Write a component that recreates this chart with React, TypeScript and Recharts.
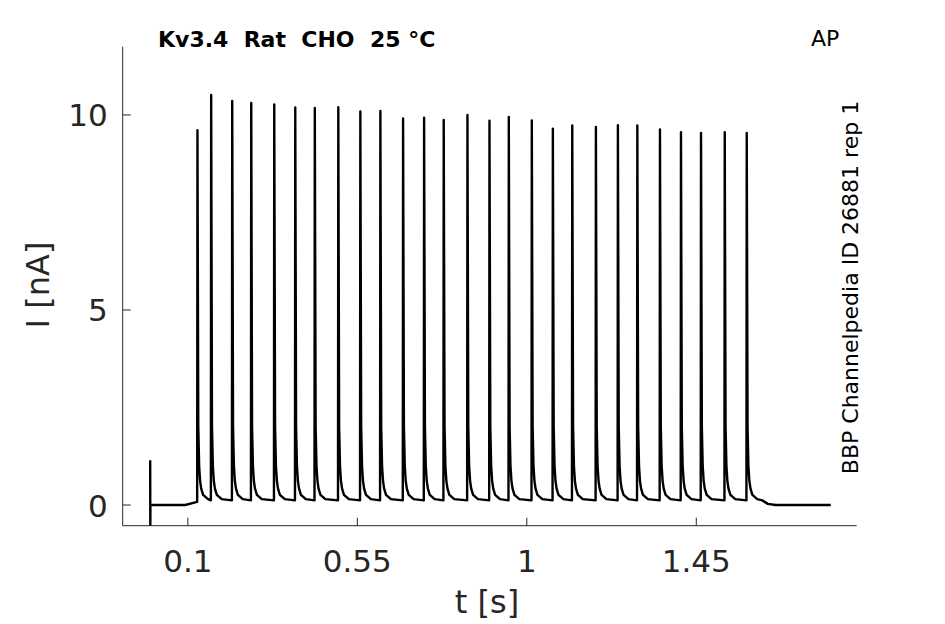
import React from "react";
import { LineChart, Line, XAxis, YAxis } from "recharts";

// Spike times (s) and peak currents (nA)
const spikeTimes = [
  0.1255, 0.1619, 0.2178, 0.2683, 0.3294, 0.3852, 0.4371, 0.4995, 0.558,
  0.6112, 0.6715, 0.7273, 0.7794, 0.8424, 0.9009, 0.9522, 1.0133, 1.0692,
  1.1207, 1.1835, 1.2419, 1.2935, 1.3536, 1.4094, 1.4626, 1.5256, 1.584,
];
const spikePeaks = [
  9.61, 10.51, 10.36, 10.31, 10.27, 10.19, 10.18, 10.2, 10.09, 10.1, 9.91,
  9.93, 9.87, 10.0, 9.85, 9.95, 9.86, 9.65, 9.73, 9.69, 9.74, 9.73, 9.63,
  9.56, 9.54, 9.56, 9.54,
];
// interspike trough level (nA)
const troughLevel = 0.12;
// spike decay shape (offset after peak in s, current in nA)
const decayOffsets = [0.0022, 0.0045, 0.007, 0.01, 0.015, 0.028];
const decayValues = [2.0, 1.0, 0.62, 0.42, 0.26, 0.15];
// trace before the first spike (stimulus artifact + baseline)
const preTimes = [0, 0.0003, 0.0006, 0.093, 0.112, 0.1247];
const preValues = [1.15, -0.63, 0, 0, 0.05, 0.08];
// trace after the last spike
const postTimes = [1.625, 1.64, 1.66, 1.807];
const postValues = [0.12, 0.03, 0, 0];

const xTicks = [0.1, 0.55, 1, 1.45];
const yTicks = [0, 5, 10];

const data: { t: number; i: number }[] = [];
preTimes.forEach((t, k) => data.push({ t, i: preValues[k] }));
spikeTimes.forEach((t, k) => {
  if (k > 0) data.push({ t: t - 0.0008, i: troughLevel });
  data.push({ t, i: spikePeaks[k] });
  decayOffsets.forEach((d, j) => data.push({ t: t + d, i: decayValues[j] }));
});
postTimes.forEach((t, k) => data.push({ t, i: postValues[k] }));

const FONT = "DejaVu Sans, sans-serif";
const TXT = "#262626";

const XTick = (props: any) => {
  const { x, y, payload } = props;
  return (
    <g>
      <line x1={x} x2={x} y1={y} y2={y - 8} stroke={TXT} strokeWidth={1} />
      <text x={x} y={y + 46} textAnchor="middle" fontSize={31} fill={TXT} fontFamily={FONT}>
        {String(payload.value)}
      </text>
    </g>
  );
};

const YTick = (props: any) => {
  const { x, y, payload } = props;
  return (
    <g>
      <line x1={x} x2={x + 8} y1={y} y2={y} stroke={TXT} strokeWidth={1} />
      <text x={x - 15} y={y + 11.5} textAnchor="end" fontSize={31} fill={TXT} fontFamily={FONT}>
        {String(payload.value)}
      </text>
    </g>
  );
};

export default function App() {
  return (
    <div style={{ position: "absolute", left: 0, top: 0, width: 945, height: 624, background: "#fff" }}>
      <LineChart
        width={945}
        height={624}
        data={data}
        margin={{ top: 46.7, right: 88.3, bottom: 68.3, left: 62.7 }}
      >
        <XAxis
          dataKey="t"
          type="number"
          domain={[-0.073, 1.876]}
          allowDataOverflow
          ticks={xTicks}
          height={30}
          tickSize={0}
          tickMargin={0}
          tick={<XTick />}
          tickLine={false}
          axisLine={{ stroke: TXT, strokeWidth: 1 }}
          interval={0}
        />
        <YAxis
          type="number"
          domain={[-0.53, 11.75]}
          allowDataOverflow
          ticks={yTicks}
          width={60}
          tickSize={0}
          tickMargin={0}
          tick={<YTick />}
          tickLine={false}
          axisLine={{ stroke: TXT, strokeWidth: 1 }}
          interval={0}
        />
        <Line
          dataKey="i"
          type="linear"
          stroke="#000"
          strokeWidth={2.4}
          strokeLinejoin="round"
          dot={false}
          activeDot={false}
          isAnimationActive={false}
        />
      </LineChart>
      <svg
        width={945}
        height={624}
        style={{ position: "absolute", left: 0, top: 0, pointerEvents: "none" }}
      >
        <text x={158} y={47} fontSize={22} fontWeight="bold" fill="#000" fontFamily={FONT} style={{ whiteSpace: "pre" }}>
          {"Kv3.4  Rat  CHO  25 °C"}
        </text>
        <text x={811} y={46} fontSize={22} fill="#000" fontFamily={FONT}>
          AP
        </text>
        <text
          transform="translate(858,287.5) rotate(-90)"
          textAnchor="middle"
          fontSize={22}
          fill="#000"
          fontFamily={FONT}
        >
          BBP Channelpedia ID 26881 rep 1
        </text>
        <text
          transform="translate(49,285) rotate(-90)"
          textAnchor="middle"
          fontSize={32}
          fill={TXT}
          fontFamily={FONT}
        >
          I [nA]
        </text>
        <text x={487} y={613} textAnchor="middle" fontSize={32} fill={TXT} fontFamily={FONT}>
          t [s]
        </text>
      </svg>
    </div>
  );
}
